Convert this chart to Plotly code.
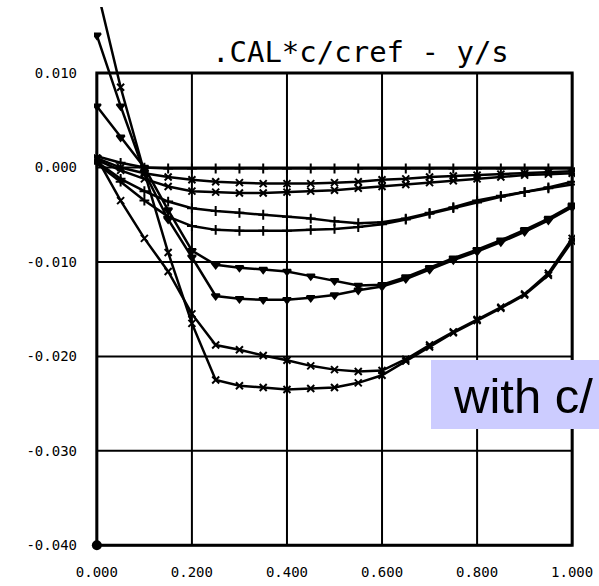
"""Scanned spanwise loading plot: CAL*c/cref against y/s, redrawn with Plotly."""
import plotly.graph_objects as go

# --- data -------------------------------------------------------------------
y_s = [0.0, 0.05, 0.1, 0.15, 0.2, 0.25, 0.3, 0.35, 0.4, 0.45, 0.5,
       0.55, 0.6, 0.65, 0.7, 0.75, 0.8, 0.85, 0.9, 0.95, 1.0]

cal_1 = [0.0012, 0.0005, 0.0000, -0.0001, -0.0001, -0.0001, -0.0001, -0.0001, -0.0001, -0.0001, -0.0001,
         -0.0001, -0.0001, -0.0001, -0.0001, -0.0001, -0.0001, -0.0001, -0.0001, -0.0001, -0.0001]
cal_2 = [0.0010, 0.0000, -0.0006, -0.0010, -0.0013, -0.0015, -0.0016, -0.0017, -0.0017, -0.0017, -0.0016,
         -0.0015, -0.0013, -0.0012, -0.0010, -0.0009, -0.0008, -0.0007, -0.0006, -0.0005, -0.0004]
cal_3 = [0.0008, -0.0003, -0.0012, -0.0020, -0.0025, -0.0026, -0.0027, -0.0027, -0.0026, -0.0025, -0.0024,
         -0.0022, -0.0020, -0.0018, -0.0016, -0.0014, -0.0012, -0.0010, -0.0008, -0.0007, -0.0006]
cal_4 = [0.0006, -0.0012, -0.0025, -0.0036, -0.0043, -0.0046, -0.0048, -0.0050, -0.0052, -0.0054, -0.0057,
         -0.0059, -0.0058, -0.0054, -0.0048, -0.0042, -0.0035, -0.0030, -0.0026, -0.0022, -0.0018]
cal_5 = [0.0004, -0.0015, -0.0035, -0.0052, -0.0062, -0.0066, -0.0067, -0.0067, -0.0067, -0.0066, -0.0065,
         -0.0063, -0.0060, -0.0055, -0.0049, -0.0043, -0.0037, -0.0031, -0.0026, -0.0021, -0.0015]
cal_6 = [0.0065, 0.0032, 0.0000, -0.0045, -0.0088, -0.0103, -0.0106, -0.0108, -0.0110, -0.0115, -0.0120,
         -0.0125, -0.0124, -0.0116, -0.0106, -0.0096, -0.0087, -0.0077, -0.0066, -0.0054, -0.0040]
cal_7 = [0.0140, 0.0065, -0.0005, -0.0055, -0.0095, -0.0136, -0.0139, -0.0140, -0.0140, -0.0138, -0.0135,
         -0.0130, -0.0126, -0.0118, -0.0108, -0.0098, -0.0089, -0.0079, -0.0068, -0.0056, -0.0042]
cal_8 = [0.0010, -0.0035, -0.0075, -0.0110, -0.0155, -0.0188, -0.0193, -0.0199, -0.0204, -0.0210, -0.0214,
         -0.0216, -0.0215, -0.0203, -0.0188, -0.0174, -0.0161, -0.0148, -0.0134, -0.0112, -0.0075]
cal_9 = [0.0190, 0.0085, -0.0005, -0.0090, -0.0165, -0.0225, -0.0231, -0.0233, -0.0235, -0.0234, -0.0233,
         -0.0228, -0.0220, -0.0205, -0.0190, -0.0175, -0.0162, -0.0149, -0.0135, -0.0114, -0.0078]

curves = [cal_1, cal_2, cal_3, cal_4, cal_5, cal_6, cal_7, cal_8, cal_9]
symbols = ["cross-thin", "x-thin", "x-thin", "cross-thin", "cross-thin",
           "triangle-down", "triangle-down", "x-thin", "x-thin"]

x_ticks = [0.0, 0.2, 0.4, 0.6, 0.8, 1.0]
x_tick_labels = ["0.000", "0.200", "0.400", "0.600", "0.800", "1.000"]
y_ticks = [-0.040, -0.030, -0.020, -0.010, 0.000, 0.010]
y_tick_labels = ["-0.040", "-0.030", "-0.020", "-0.010", "0.000", "0.010"]

corner_x = [0.0]
corner_y = [-0.040]

title_text = ".CAL*c/cref - y/s"
overlay_text = "with c/"

# --- layout helpers (pixel -> paper) -----------------------------------------
W, H = 599, 586
M_L, M_R, M_T, M_B = 94, 24, 7, 36


def px(x):
    return (x - M_L) / (W - M_L - M_R)


def py(y):
    return (H - M_B - y) / (H - M_T - M_B)


fig = go.Figure()

for vals, sym in zip(curves, symbols):
    fig.add_trace(go.Scatter(
        x=y_s, y=vals,
        mode="lines+markers",
        line={"color": "black", "width": 2.5},
        marker={"symbol": sym, "size": 7, "color": "black",
                "line": {"color": "black", "width": 2}},
        showlegend=False,
    ))

fig.add_trace(go.Scatter(
    x=corner_x, y=corner_y, mode="markers",
    marker={"size": 10, "color": "black"},
    cliponaxis=False, showlegend=False,
))

# grid drawn as shapes so the verticals stop at the frame
shapes = []
for xv in x_ticks:
    shapes.append(dict(type="line", xref="x", yref="y", x0=xv, x1=xv,
                       y0=y_ticks[0], y1=y_ticks[-1],
                       line={"color": "black", "width": 2}, layer="below"))
for yv in y_ticks:
    shapes.append(dict(type="line", xref="x", yref="y", x0=x_ticks[0], x1=x_ticks[-1],
                       y0=yv, y1=yv,
                       line={"color": "black", "width": 2}, layer="below"))
shapes.append(dict(type="rect", xref="x", yref="y", x0=x_ticks[0], x1=x_ticks[-1],
                   y0=y_ticks[0], y1=y_ticks[-1],
                   line={"color": "black", "width": 3}, layer="below"))
# lavender caption box, cut off by the right edge
shapes.append(dict(type="rect", xref="paper", yref="paper",
                   x0=px(431), x1=px(640), y0=py(429), y1=py(360),
                   fillcolor="rgb(204,204,255)", line={"width": 0}, layer="above"))

fig.update_layout(
    width=W, height=H,
    margin={"l": M_L, "r": M_R, "t": M_T, "b": M_B},
    paper_bgcolor="white", plot_bgcolor="white",
    shapes=shapes,
    font={"family": "DejaVu Sans Mono", "color": "black"},
    annotations=[
        dict(text=title_text, xref="paper", yref="paper", x=px(210), y=py(52),
             xanchor="left", yanchor="middle", showarrow=False,
             font={"family": "DejaVu Sans Mono", "size": 29, "color": "black"}),
        dict(text=overlay_text, xref="paper", yref="paper", x=px(451), y=py(396),
             xanchor="left", yanchor="middle", showarrow=False,
             font={"family": "Liberation Sans", "size": 49, "color": "black"}),
    ],
)

fig.update_xaxes(
    range=[-0.006, 1.006], showgrid=False, zeroline=False, showline=False,
    tickvals=x_ticks, ticktext=x_tick_labels, ticks="", automargin=False,
    tickfont={"family": "DejaVu Sans Mono", "size": 14, "color": "black"},
    ticklabelstandoff=12,
)
fig.update_yaxes(
    range=[-0.0405, 0.0170], showgrid=False, zeroline=False, showline=False,
    tickvals=y_ticks, ticktext=y_tick_labels, ticks="", automargin=False,
    tickfont={"family": "DejaVu Sans Mono", "size": 14, "color": "black"},
    ticklabelstandoff=16,
)

# the page's default body margin would shift the chart 8px; drop it
fig.write_html("out.html", config={"displayModeBar": False},
               post_script="document.body.style.margin='0';")
